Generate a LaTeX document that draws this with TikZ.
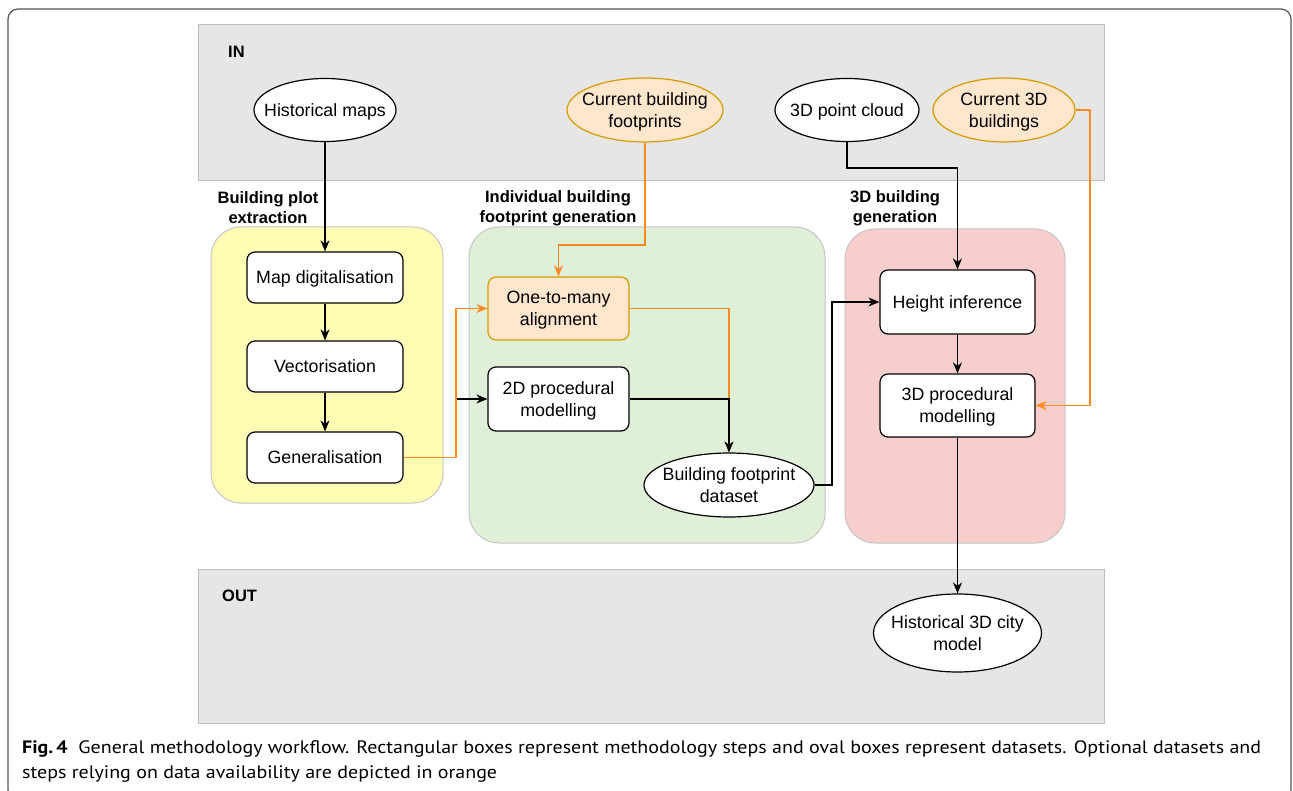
\documentclass[tikz,border=0pt]{standalone}
\usepackage{fontspec}
\setmainfont{Liberation Sans}
\newfontfamily\capfont[FakeStretch=1.11]{PT Sans}
\usetikzlibrary{shapes.geometric,arrows.meta}
\definecolor{boxgray}{HTML}{E6E6E6}
\definecolor{boxgrayline}{HTML}{BDBDBD}
\definecolor{yel}{HTML}{FFFCB4}
\definecolor{grn}{HTML}{E0EFD7}
\definecolor{red}{HTML}{F8CECC}
\definecolor{grpline}{HTML}{C4C4C4}
\definecolor{ofill}{HTML}{FFE6CC}
\definecolor{oline}{HTML}{D79B00}
\definecolor{oedge}{HTML}{FF8A1F}
\definecolor{frame}{HTML}{555555}
\tikzset{
  txt/.style={font=\fontsize{17.8}{22}\selectfont, align=center, text depth=0pt},
  stepbox/.style={txt, draw=black, fill=white, rounded corners=8pt, line width=1.2pt, inner sep=0pt},
  databox/.style={ellipse, draw=black, fill=white, line width=1.2pt, inner sep=0pt},
  optstep/.style={stepbox, draw=oline, fill=ofill},
  optdata/.style={databox, draw=oline, fill=ofill},
  dtext/.style={txt, inner sep=0pt},
  grplabel/.style={font=\bfseries\fontsize{16.5}{20}\selectfont, align=center},
  arr/.style={draw=black, line width=1.3pt, -{Stealth[length=11pt,width=9pt,inset=3.5pt]}},
  oarr/.style={arr, draw=oedge, -{Stealth[length=11pt,width=9pt,inset=3.5pt,fill=oedge]}},
  graybox/.style={fill=boxgray, draw=boxgrayline, line width=1pt},
  grp/.style={draw=grpline, line width=1pt, rounded corners=30pt},
  captxt/.style={anchor=base west, inner sep=0pt, font=\capfont\fontsize{18}{27}\selectfont},
}
\begin{document}
\begin{tikzpicture}[x=1pt,y=-1pt]
\useasboundingbox (0,0) rectangle (1293,791);
\fill[white] (0,0) rectangle (1293,791);
% outer frame
\draw[frame, line width=1.2pt, rounded corners=10pt] (8,9) rectangle (1291,800);
% IN / OUT boxes
\path[graybox] (198,25) rectangle (1104,181);
\path[graybox] (198,569) rectangle (1104,723);
\node[grplabel, anchor=base west, inner sep=0pt] (inlbl) at (228,58) {IN};
\node[grplabel, anchor=base west, inner sep=0pt] (outlbl) at (222,601.5) {OUT};
% groups
\path[grp, fill=yel] (211,227) rectangle (443,503);
\path[grp, fill=grn] (469,227) rectangle (825,543);
\path[grp, fill=red] (845,229) rectangle (1065,543);
\node[grplabel] (g1lbl) at (268,208) {Building plot\\extraction};
\node[grplabel] (g2lbl) at (558,208) {Individual building\\footprint generation};
\node[grplabel] (g3lbl) at (895,208) {3D building\\generation};
% input datasets
\node[databox, minimum width=142pt, minimum height=63pt, label={[dtext]center:Historical maps}] (hm) at (325,110) {};
\node[optdata, minimum width=156pt, minimum height=64pt, label={[dtext]center:Current building\\footprints}] (cbf) at (645,110) {};
\node[databox, minimum width=144pt, minimum height=63pt, label={[dtext]center:3D point cloud}] (pc) at (847,110) {};
\node[optdata, minimum width=142pt, minimum height=64pt, label={[dtext]center:Current 3D\\buildings}] (c3d) at (1004,110) {};
% steps
\node[stepbox, minimum width=156pt, minimum height=51pt] (md) at (325,277.5) {Map digitalisation};
\node[stepbox, minimum width=156pt, minimum height=51pt] (vec) at (325,366.5) {Vectorisation};
\node[stepbox, minimum width=156pt, minimum height=51pt] (gen) at (325,457.5) {Generalisation};
\node[optstep, minimum width=141pt, minimum height=63pt] (ota) at (558.5,308.5) {One-to-many\\alignment};
\node[stepbox, minimum width=141pt, minimum height=64pt] (pm2) at (558.5,399) {2D procedural\\modelling};
\node[databox, minimum width=170pt, minimum height=64pt, label={[dtext]center:Building footprint\\dataset}] (bfd) at (729,485) {};
\node[stepbox, minimum width=155pt, minimum height=64pt] (hi) at (957.5,302) {Height inference};
\node[stepbox, minimum width=155pt, minimum height=63pt] (pm3) at (957.5,405.5) {3D procedural\\modelling};
\node[databox, minimum width=168pt, minimum height=78pt, label={[dtext]center:Historical 3D city\\model}] (h3d) at (957.5,633) {};
% junctions
\coordinate (j1) at (558.5,245);
\coordinate (j2) at (456,457.5);
\coordinate (j3) at (832,485);
\coordinate (j4) at (900,168);
\coordinate (j5) at (1090,110);
% connectors
\draw[arr] (hm) -- (md);
\draw[arr] (md) -- (vec);
\draw[arr] (vec) -- (gen);
\draw[arr] (gen.east) -- (j2) |- (pm2.west);
\draw[oarr] (gen.east) -- (j2) |- (ota.west);
\draw[oarr] (cbf.south) |- (j1) -- (ota.north);
\draw[oarr] (ota.east) -| (bfd.north);
\draw[arr] (pm2.east) -| (bfd.north);
\draw[arr] (bfd.east) -- (j3) |- (hi.west);
\draw[arr] (pc.south) |- (j4) -| (hi.north);
\draw[oarr] (c3d.east) -- (j5) |- (pm3.east);
\draw[arr] (hi) -- (pm3);
\draw[arr] (pm3) -- (h3d);
% caption
\node[captxt] (cap1) at (22,753)
  {\textbf{Fig.\,4}\hspace{0.6em}General methodology workflow. Rectangular boxes represent methodology steps and oval boxes represent datasets. Optional datasets and};
\node[captxt] (cap2) at (22,778)
  {steps relying on data availability are depicted in orange};
\end{tikzpicture}
\end{document}
